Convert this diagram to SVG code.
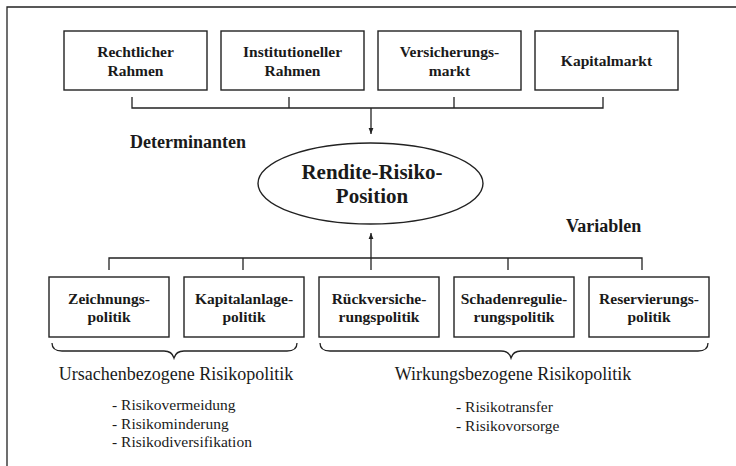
<svg xmlns="http://www.w3.org/2000/svg" width="736" height="466" viewBox="0 0 736 466">
<defs>
<style>
.box{fill:#fff;stroke:#222;stroke-width:1.4}
.ln{fill:none;stroke:#222;stroke-width:1.3}
.b{font-family:"Liberation Serif","Times New Roman",serif;font-weight:bold;font-size:15.5px;fill:#1a1a1a;text-anchor:middle}
.big{font-family:"Liberation Serif","Times New Roman",serif;font-weight:bold;font-size:21px;fill:#1a1a1a;text-anchor:middle}
.lab{font-family:"Liberation Serif","Times New Roman",serif;font-weight:bold;font-size:18px;fill:#1a1a1a}
.reg{font-family:"Liberation Serif","Times New Roman",serif;font-size:18px;fill:#1a1a1a;text-anchor:middle}
.li{font-family:"Liberation Serif","Times New Roman",serif;font-size:15.5px;fill:#1a1a1a}
</style>
<marker id="ah" viewBox="0 0 10 10" refX="10" refY="5" markerWidth="6" markerHeight="7" markerUnits="userSpaceOnUse" orient="auto">
<path d="M0,1 L10,5 L0,9 Z" fill="#222"/>
</marker>
</defs>
<rect width="736" height="466" fill="#fff"/>
<path class="ln" d="M7,466 L7,7 L736,7"/>

<g id="n-rechtlich"><rect class="box" x="64" y="31" width="143" height="59"/><text class="b" x="135.5" y="57">Rechtlicher</text><text class="b" x="135.5" y="76">Rahmen</text></g>
<g id="n-institutionell"><rect class="box" x="221" y="31" width="143" height="59"/><text class="b" x="292.5" y="57">Institutioneller</text><text class="b" x="292.5" y="76">Rahmen</text></g>
<g id="n-versicherungsmarkt"><rect class="box" x="378" y="31" width="143" height="59"/><text class="b" x="449.5" y="57">Versicherungs-</text><text class="b" x="449.5" y="76">markt</text></g>
<g id="n-kapitalmarkt"><rect class="box" x="535" y="31" width="143" height="59"/><text class="b" x="606.5" y="66">Kapitalmarkt</text></g>

<g id="n-position"><ellipse class="box" cx="370.5" cy="183.5" rx="112.5" ry="40.5"/><text class="big" x="372" y="179">Rendite-Risiko-</text><text class="big" x="372" y="203">Position</text></g>

<g id="n-zeichnung"><rect class="box" x="49" y="277" width="120" height="60"/><text class="b" x="109" y="304">Zeichnungs-</text><text class="b" x="109" y="322">politik</text></g>
<g id="n-kapitalanlage"><rect class="box" x="184" y="277" width="120" height="60"/><text class="b" x="244" y="304">Kapitalanlage-</text><text class="b" x="244" y="322">politik</text></g>
<g id="n-rueckversicherung"><rect class="box" x="319" y="277" width="120" height="60"/><text class="b" x="379" y="304">Rückversiche-</text><text class="b" x="379" y="322">rungspolitik</text></g>
<g id="n-schaden"><rect class="box" x="454" y="277" width="120" height="60"/><text class="b" x="514" y="304">Schadenregulie-</text><text class="b" x="514" y="322">rungspolitik</text></g>
<g id="n-reservierung"><rect class="box" x="589" y="277" width="120" height="60"/><text class="b" x="649" y="304">Reservierungs-</text><text class="b" x="649" y="322">politik</text></g>

<g id="connectors">
<path class="ln" d="M132,97 L132,108 L603,108 L603,97 M289,97 L289,108 M454,97 L454,108"/>
<path class="ln" d="M371,108 L371,134" marker-end="url(#ah)"/>
<path class="ln" d="M109,270 L109,258 L642,258 L642,270 M243,258 L243,270 M371,258 L371,270 M508,258 L508,270"/>
<path class="ln" d="M371,258 L371,233" marker-end="url(#ah)"/>
<path class="ln" d="M52,343 Q52,351 62,351 L164,351 Q172,351 174,358 Q176,351 184,351 L287,351 Q297,351 297,343"/>
<path class="ln" d="M320,343 Q320,351 330,351 L501,351 Q509,351 511,358 Q513,351 521,351 L698,351 Q708,351 708,343"/>
</g>

<text class="lab" x="130" y="148">Determinanten</text>
<text class="lab" x="566" y="232">Variablen</text>
<text class="reg" x="176" y="380">Ursachenbezogene Risikopolitik</text>
<text class="reg" x="513" y="380">Wirkungsbezogene Risikopolitik</text>
<text class="li" x="112" y="410">- Risikovermeidung</text>
<text class="li" x="112" y="429">- Risikominderung</text>
<text class="li" x="112" y="447">- Risikodiversifikation</text>
<text class="li" x="456" y="412">- Risikotransfer</text>
<text class="li" x="456" y="431">- Risikovorsorge</text>
</svg>
